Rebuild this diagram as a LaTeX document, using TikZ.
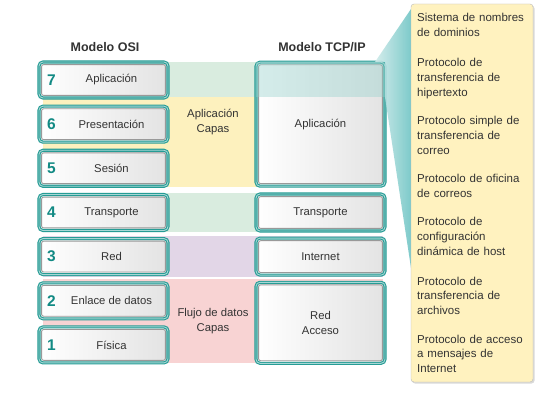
\documentclass[tikz,border=0pt]{standalone}
\usepackage{fontspec}
\setmainfont{Liberation Sans}
\usetikzlibrary{positioning}

\definecolor{ositeal}{RGB}{38,156,149}
\definecolor{osinum}{RGB}{18,138,132}
\definecolor{appgreen}{RGB}{217,236,223}
\definecolor{appyellow}{RGB}{253,241,190}
\definecolor{netpurple}{RGB}{226,214,231}
\definecolor{linkpink}{RGB}{248,211,211}
\definecolor{calloutfill}{RGB}{255,242,191}
\definecolor{calloutline}{RGB}{186,186,186}
\definecolor{textgray}{RGB}{51,51,51}
\definecolor{zoomteal}{RGB}{150,210,205}
\definecolor{wedgelight}{RGB}{208,235,234}
\definecolor{wedgedark}{RGB}{112,197,197}

\tikzset{
  layer/.style={draw=ositeal, double=ositeal!40!white, double distance=0.9pt,
    line width=1.1pt, rounded corners=4pt, left color=white, right color=black!11,
    inner sep=0pt, minimum width=129pt,
    path picture={\draw[black!40, line width=0.9pt, rounded corners=2pt]
      ([shift={(2.6pt,-2.6pt)}]path picture bounding box.north west) rectangle
      ([shift={(-2.6pt,2.6pt)}]path picture bounding box.south east);}},
  boxtext/.style={text=textgray, font=\fontsize{11.3}{15}\selectfont, align=center, inner sep=0pt},
  layernum/.style={text=osinum, font=\fontsize{15.5}{16}\selectfont\bfseries, inner sep=0pt},
  heading/.style={text=textgray, font=\fontsize{12.5}{14}\selectfont\bfseries, inner sep=0pt},
  strip/.style={draw=none},
  protocol/.style={text=textgray, font=\fontsize{11.5}{14.7}\selectfont, align=left,
    text width=116pt, inner sep=0pt, anchor=base west}
}

\begin{document}
\begin{tikzpicture}[x=1pt,y=-1pt]
    \useasboundingbox[fill=white] (0,0) rectangle (557,406);

    % colour bands behind the layers
    \fill[appgreen]  (43,62) rectangle (383,97);
    \fill[appyellow] (43,97) rectangle (383,187);
    \fill[appgreen]  (43,193) rectangle (383,232);
    \fill[netpurple] (43,236) rectangle (383,277);
    \fill[linkpink]  (43,279) rectangle (383,363);

    \node[heading] (osihead) at (105,47) {Modelo OSI};
    \node[heading] (tcphead) at (322,47) {Modelo TCP/IP};

    % OSI layers
    \foreach \n/\y/\name in {7/80/Aplicación, 6/124.2/Presentación, 5/168.3/Sesión,
        4/212.5/Transporte, 3/256.6/Red, 2/300.8/Enlace de datos, 1/344.9/Física}{
        \node[layer, minimum height=36pt] (osi\n) at (103.5,\y) {};
        \node[boxtext] (t\n) at ([xshift=8pt]osi\n.center) {\name};
        \node[layernum, right=8.5pt of osi\n.west] (n\n) {\n};
    }

    \node[boxtext] (appcapas) at (213,122) {Aplicación\\Capas};
    \node[boxtext] (flujo) at (213,321) {Flujo de datos\\Capas};

    % TCP/IP layers
    \node[layer, minimum height=124pt, boxtext] (tcpapp) at (320.5,124.2) {Aplicación};
    \node[layer, minimum height=37pt, boxtext] (tcptrans) at (320.5,212.5) {Transporte};
    \node[layer, minimum height=37pt, boxtext] (tcpinet) at (320.5,256.6) {Internet};
    \node[layer, minimum height=81pt, boxtext] (tcpacc) at (320.5,322.8) {Red\\Acceso};

    % zoom onto the application layer
    \fill[zoomteal, fill opacity=0.4] (256,62) rectangle (385,97);
    \shade[left color=wedgelight, right color=wedgedark, opacity=0.9]
        (375,62) -- (411,9) -- (411,268) -- (385,97) -- (385,62) -- cycle;

    % callout with the protocols
    \fill[black!15, rounded corners=3pt] (412,5.5) rectangle (534.5,383.5);
    \draw[calloutline, fill=calloutfill, rounded corners=3pt] (411,4) rectangle (533,382);

    \node[protocol] (dns)  at (417,22)  {Sistema de nombres\\de dominios};
    \node[protocol] (http) at (417,67)  {Protocolo de\\transferencia de\\hipertexto};
    \node[protocol] (smtp) at (417,125) {Protocolo simple de\\transferencia de\\correo};
    \node[protocol] (pop)  at (417,183) {Protocolo de oficina\\de correos};
    \node[protocol] (dhcp) at (417,226) {Protocolo de\\configuración\\dinámica de host};
    \node[protocol] (ftp)  at (417,285) {Protocolo de\\transferencia de\\archivos};
    \node[protocol] (imap) at (417,343) {Protocolo de acceso\\a mensajes de\\Internet};
\end{tikzpicture}
\end{document}
